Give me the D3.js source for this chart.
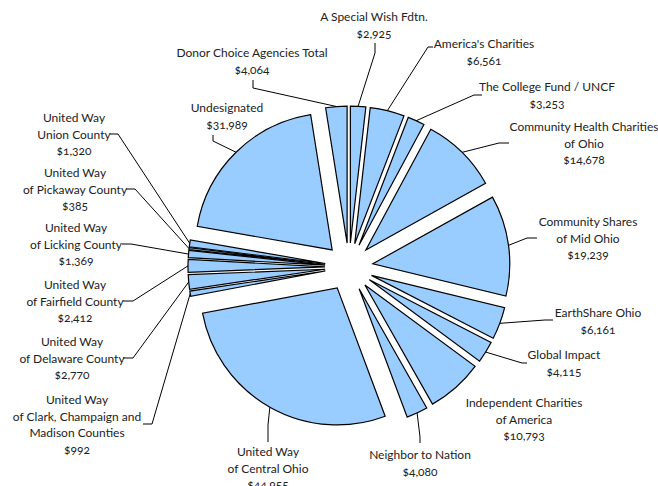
<!DOCTYPE html>
<html>
<head>
<meta charset="utf-8">
<script src="https://cdn.jsdelivr.net/npm/d3@7"></script>
<style>
  body { margin: 0; background: #fff; }
  text { font-family: Lato, "Open Sans", sans-serif; font-size: 12px; fill: #222; font-variant-numeric: oldstyle-nums; }
</style>
</head>
<body>
<div id="chart"></div>
<script>
// Set the dimensions of the SVG
var width = 658;
var height = 486;

// Categories (label lines) and amounts, in drawing order (clockwise from 12 o'clock)
var categories = [
    ["A Special Wish Fdtn."],
    ["America's Charities"],
    ["The College Fund / UNCF"],
    ["Community Health Charities", "of Ohio"],
    ["Community Shares", "of Mid Ohio"],
    ["EarthShare Ohio"],
    ["Global Impact"],
    ["Independent Charities", "of America"],
    ["Neighbor to Nation"],
    ["United Way", "of Central Ohio"],
    ["United Way", "of Clark, Champaign and", "Madison Counties"],
    ["United Way", "of Delaware County"],
    ["United Way", "of Fairfield County"],
    ["United Way", "of Licking County"],
    ["United Way", "of Pickaway County"],
    ["United Way", "Union County"],
    ["Undesignated"],
    ["Donor Choice Agencies Total"]
];
var amounts = [2925, 6561, 3253, 14678, 19239, 6161, 4115, 10793, 4080,
    44955, 992, 2770, 2412, 1369, 385, 1320, 31989, 4064];

// Label layout: text centre (x, first line y), leader knee and end points
var labelLayout = [
    { x: 374, y: 17,  knee: [375, 53],  end: [375, 43] },
    { x: 484, y: 44,  knee: [428, 47],  end: [433, 47] },
    { x: 547, y: 87,  knee: [474, 95],  end: [482, 95] },
    { x: 584, y: 127, knee: [499, 143], end: [509, 143] },
    { x: 588, y: 222, knee: [527, 238], end: [537, 238] },
    { x: 598, y: 313, knee: [545, 320], end: [553, 320] },
    { x: 564, y: 355, knee: [522, 363], end: [527, 363] },
    { x: 524, y: 403, knee: null,       end: null },
    { x: 420, y: 455, knee: [420, 437], end: [420, 443] },
    { x: 268, y: 452, knee: [268, 425], end: [268, 442] },
    { x: 77,  y: 400, knee: [152, 424], end: [143, 424] },
    { x: 72,  y: 342, knee: [133, 358], end: [123, 358] },
    { x: 75,  y: 285, knee: [133, 301], end: [123, 301] },
    { x: 76,  y: 228, knee: [131, 244], end: [122, 244] },
    { x: 75,  y: 173, knee: [135, 189], end: [126, 189] },
    { x: 74,  y: 118, knee: [118, 134], end: [110, 134] },
    { x: 227, y: 108, knee: [213, 141], end: [213, 135] },
    { x: 252, y: 53,  knee: [253, 88],  end: [253, 80] }
];

var cx = 349, cy = 267;
var radius = 137;
var explode = 24;
var lineHeight = 16.5;

var fmt = d3.format("$,");

var svg = d3.select("#chart")
    .append("svg")
    .attr("width", width)
    .attr("height", height);

var pie = d3.pie().sort(null).value(function (d) { return d; });
var arc = d3.arc().innerRadius(0).outerRadius(radius);
var arcs = pie(amounts);

function mid(d) { return (d.startAngle + d.endAngle) / 2; }

var g = svg.append("g").attr("transform", "translate(" + cx + "," + cy + ")");

// Exploded slices
g.selectAll("path.slice")
    .data(arcs)
    .enter()
    .append("path")
    .attr("class", "slice")
    .attr("d", arc)
    .attr("transform", function (d) {
        var a = mid(d);
        return "translate(" + (explode * Math.sin(a)) + "," + (-explode * Math.cos(a)) + ")";
    })
    .attr("fill", "#99ccff")
    .attr("stroke", "#000")
    .attr("stroke-width", 1.2)
    .attr("stroke-linejoin", "miter");

// Leader lines: from the slice's outer arc midpoint to the knee, then to the label
arcs.forEach(function (d, i) {
    var lay = labelLayout[i];
    if (!lay.knee) return;
    var a = mid(d);
    var r = explode + radius;
    var sx = cx + r * Math.sin(a), sy = cy - r * Math.cos(a);
    svg.append("polyline")
        .attr("points", [[sx, sy], lay.knee, lay.end].map(function (p) { return p.join(","); }).join(" "))
        .attr("fill", "none")
        .attr("stroke", "#000")
        .attr("stroke-width", 1);
});

// Labels
arcs.forEach(function (d, i) {
    var lay = labelLayout[i];
    var lines = categories[i].concat([fmt(amounts[i])]);
    var t = svg.append("text")
        .attr("text-anchor", "middle");
    lines.forEach(function (s, k) {
        t.append("tspan")
            .attr("x", lay.x)
            .attr("y", lay.y + 4 + k * lineHeight)
            .text(s);
    });
});
</script>
</body>
</html>
